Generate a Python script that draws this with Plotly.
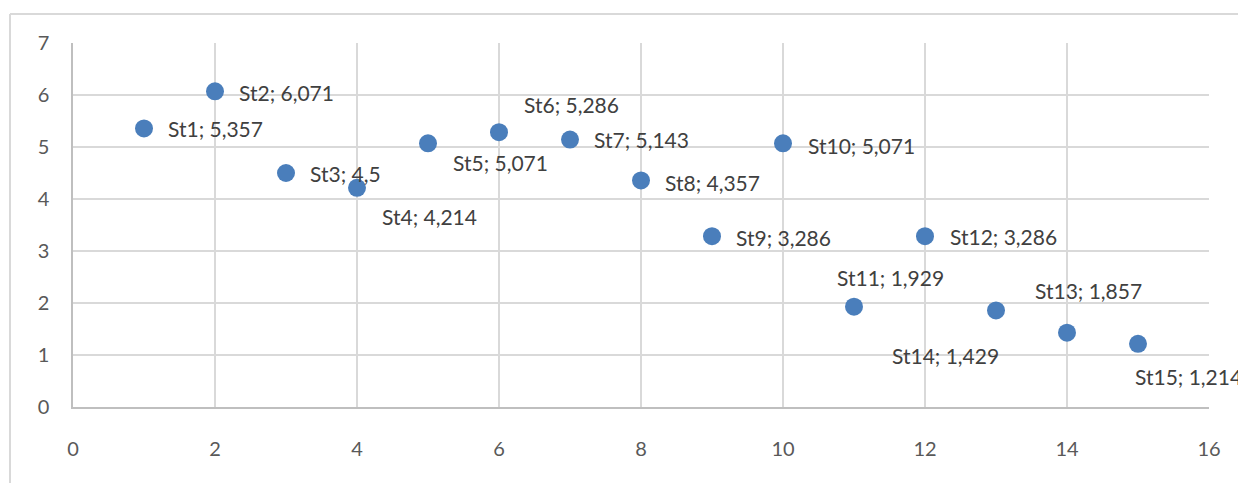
import plotly.graph_objects as go

# ---- data ----
x_vals = [1, 2, 3, 4, 5, 6, 7, 8, 9, 10, 11, 12, 13, 14, 15]
y_vals = [5.357, 6.071, 4.5, 4.214, 5.071, 5.286, 5.143, 4.357, 3.286, 5.071,
          1.929, 3.286, 1.857, 1.429, 1.214]
names = ["St1", "St2", "St3", "St4", "St5", "St6", "St7", "St8", "St9", "St10",
         "St11", "St12", "St13", "St14", "St15"]
# label text (decimal comma like the source)
label_texts = [f"{n}; {str(v).replace('.', ',')}" for n, v in zip(names, y_vals)]
x_ticks = [0, 2, 4, 6, 8, 10, 12, 14, 16]
y_ticks = [0, 1, 2, 3, 4, 5, 6, 7]

# label offsets in pixels (left edge of text relative to the point, y up)
label_dx = [22, 22, 22, 23, 23, 23, 22, 22, 22, 23, -19, 23, 37, -177, -5]
label_dy = [0, -1, 0, -29, -19, 28, 0, -2, -1, -2, 29.5, 0, 20, -22.5, -33]

W, H = 1238, 483
ML, MR, MT, MB = 73, 29, 43, 76
FONT = "Lato"
LBL_SIZE = 21
TICK_SIZE = 20

fig = go.Figure()
fig.add_trace(go.Scatter(
    x=x_vals, y=y_vals, mode="markers",
    marker=dict(size=18, color="#4a7ebb", line=dict(width=0)),
    hoverinfo="skip", cliponaxis=False, showlegend=False,
))

for xv, yv, t, dx, dy in zip(x_vals, y_vals, label_texts, label_dx, label_dy):
    fig.add_annotation(x=xv, y=yv, text=t, showarrow=False,
                       xanchor="left", yanchor="middle",
                       xshift=dx, yshift=dy,
                       font=dict(family=FONT, size=LBL_SIZE, color="#404040"))

# chart border (outer frame), in paper coordinates computed from pixels
pw, ph = W - ML - MR, H - MT - MB
def px_to_paper_x(p):
    return (p - ML) / pw
def px_to_paper_y(p):
    return (H - MB - p) / ph
border_color = "#d9d9d9"
fig.add_shape(type="line", xref="paper", yref="paper",
              x0=px_to_paper_x(10), x1=px_to_paper_x(10),
              y0=px_to_paper_y(H + 5), y1=px_to_paper_y(14),
              line=dict(color=border_color, width=2))
fig.add_shape(type="line", xref="paper", yref="paper",
              x0=px_to_paper_x(10), x1=px_to_paper_x(W + 5),
              y0=px_to_paper_y(14), y1=px_to_paper_y(14),
              line=dict(color=border_color, width=2))

fig.update_layout(
    width=W, height=H,
    margin=dict(l=ML, r=MR, t=MT, b=MB, pad=0),
    paper_bgcolor="white", plot_bgcolor="white",
    font=dict(family=FONT, size=TICK_SIZE, color="#595959"),
    xaxis=dict(range=[0, 16], tickvals=x_ticks, showgrid=True, gridcolor="#d9d9d9",
               gridwidth=1.5, zeroline=False, showline=True, linecolor="#bfbfbf",
               linewidth=1.5, ticks="", ticklabelstandoff=23,
               tickfont=dict(family=FONT, size=TICK_SIZE, color="#595959"), fixedrange=True),
    yaxis=dict(range=[0, 7], tickvals=y_ticks, showgrid=True, gridcolor="#d9d9d9",
               gridwidth=1.5, zeroline=False, showline=True, linecolor="#bfbfbf",
               linewidth=1.5, ticks="", ticklabelstandoff=18,
               tickfont=dict(family=FONT, size=TICK_SIZE, color="#595959"), fixedrange=True),
)

fig.write_html("out.html", config={"displayModeBar": False})
